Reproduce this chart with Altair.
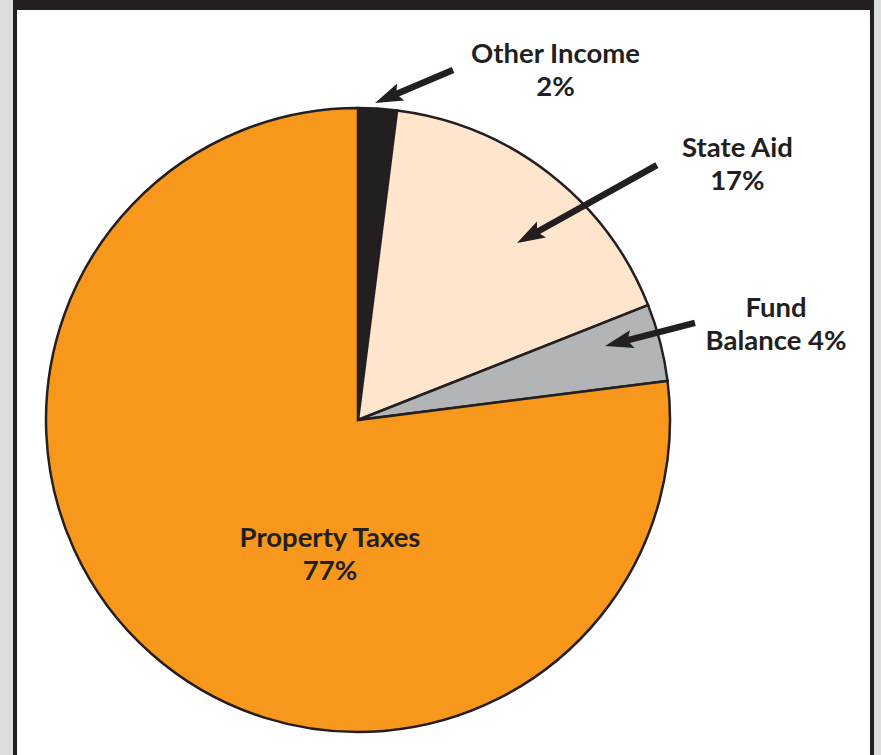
import altair as alt
import pandas as pd
import numpy as np

# ---- data ----
categories = ["Other Income", "State Aid", "Fund Balance", "Property Taxes"]
shares = [2, 17, 4, 77]
colors = ["#231F20", "#FEE5CC", "#B2B4B6", "#F7981D"]

label_texts = ["Other Income\n2%", "State Aid\n17%", "Fund\nBalance 4%", "Property Taxes\n77%"]

# ---- layout (pie-radius units, centre of pie = 0,0); anchor = first line baseline ----
label_u = [0.633, 1.216, 1.340, -0.0897]
label_v = [1.144, 0.843, 0.330, -0.407]

arrow_tail_u = [0.3045, 0.958, 1.080]
arrow_tail_v = [1.122, 0.817, 0.311]
arrow_tip_u = [0.0545, 0.5096, 0.792]
arrow_tip_v = [1.016, 0.567, 0.237]

W, H = 881, 755
R = 312          # pie radius in px
CX, CY = 358, 420

xs = alt.Scale(domain=[-CX / R, (W - CX) / R], nice=False, zero=False)
ys = alt.Scale(domain=[-(H - CY) / R, CY / R], nice=False, zero=False)

pie_df = pd.DataFrame({"category": categories, "share": shares, "order": list(range(len(categories)))})
lab_df = pd.DataFrame({"text": label_texts, "u": label_u, "v": label_v})

tu, tv = np.array(arrow_tail_u), np.array(arrow_tail_v)
pu, pv = np.array(arrow_tip_u), np.array(arrow_tip_v)
du, dv = pu - tu, pv - tv
ln = np.hypot(du, dv)
back = 0.06
arr_df = pd.DataFrame({
    "u0": tu, "v0": tv,
    "u1": pu - du / ln * back, "v1": pv - dv / ln * back,
    "tu": pu, "tv": pv,
    "ang": (np.degrees(np.arctan2(du, dv)) + 360) % 360,
})

ink = "#231F20"
one = pd.DataFrame({"a": [0]})

frame_dark = alt.Chart(one).mark_rect(color=ink).encode(
    x=alt.value(13), x2=alt.value(874), y=alt.value(0), y2=alt.value(H))
frame_white = alt.Chart(one).mark_rect(color="white").encode(
    x=alt.value(17), x2=alt.value(870), y=alt.value(10), y2=alt.value(H))

pie = alt.Chart(pie_df).mark_arc(radius=R, stroke=ink, strokeWidth=2.5, strokeJoin="miter").encode(
    theta=alt.Theta("share:Q", stack=True),
    order=alt.Order("order:Q"),
    color=alt.Color("category:N", scale=alt.Scale(domain=categories, range=colors), legend=None),
    x=alt.X(datum=0, type="quantitative", scale=xs, axis=None),
    y=alt.Y(datum=0, type="quantitative", scale=ys, axis=None),
)

shafts = alt.Chart(arr_df).mark_rule(color=ink, strokeWidth=6.5, strokeCap="butt").encode(
    x=alt.X("u0:Q", scale=xs, axis=None), y=alt.Y("v0:Q", scale=ys, axis=None),
    x2="u1:Q", y2="v1:Q",
)

heads = alt.Chart(arr_df).mark_point(
    shape="M0,0 L0.33,1 L0,0.82 L-0.33,1 Z", size=3136, filled=True, opacity=1, color=ink, strokeWidth=0
).encode(
    x=alt.X("tu:Q", scale=xs, axis=None), y=alt.Y("tv:Q", scale=ys, axis=None),
    angle=alt.Angle("ang:Q", scale=None),
)

labels = alt.Chart(lab_df).mark_text(
    font="Lato", fontSize=27.5, fontWeight="bold", color=ink, align="center", baseline="alphabetic",
    lineBreak="\n", lineHeight=33,
).encode(
    x=alt.X("u:Q", scale=xs, axis=None), y=alt.Y("v:Q", scale=ys, axis=None),
    text="text:N",
)

chart = alt.layer(frame_dark, frame_white, pie, shafts, heads, labels).properties(
    width=W, height=H, padding=0, autosize="none", background="#DCDDDF"
).configure_view(stroke=None)

chart.save("out.html", embed_options={"renderer": "svg", "actions": False})
